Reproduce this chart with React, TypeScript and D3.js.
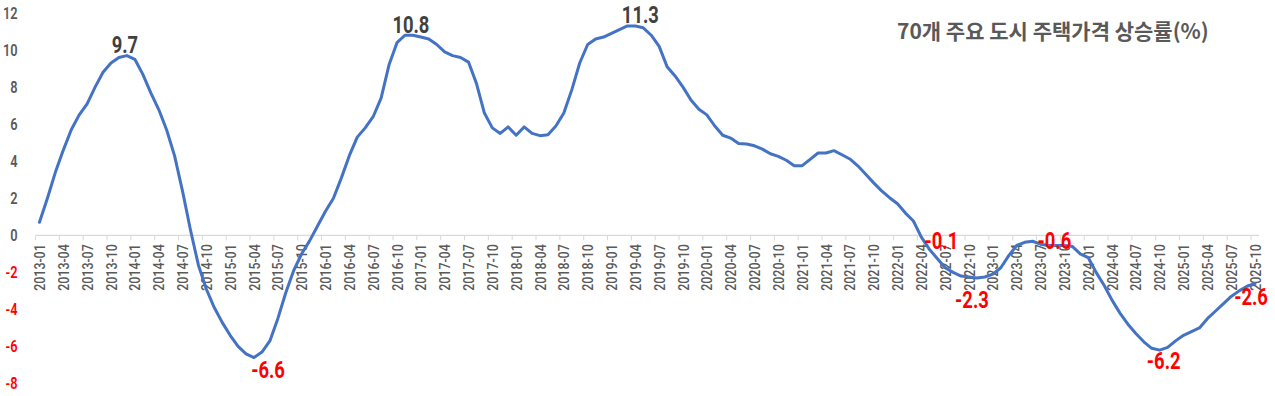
import React, { useRef, useEffect } from "react";
import * as d3 from "d3";

// 70 major cities housing price YoY change (%), monthly 2013-01 .. 2025-10
const startYear = 2013;
const values = [
  // 2013
  0.7, 2.0, 3.4, 4.6, 5.7, 6.5, 7.1, 8.0, 8.8, 9.3, 9.6, 9.7,
  // 2014
  9.5, 8.7, 7.7, 6.8, 5.7, 4.3, 2.4, 0.3, -1.6, -2.9, -3.9, -4.7,
  // 2015
  -5.4, -6.0, -6.4, -6.6, -6.3, -5.7, -4.5, -3.1, -1.9, -1.0, -0.3, 0.5,
  // 2016
  1.3, 2.0, 3.1, 4.3, 5.3, 5.8, 6.4, 7.4, 9.2, 10.4, 10.8, 10.8,
  // 2017
  10.7, 10.6, 10.3, 9.9, 9.7, 9.6, 9.35, 8.2, 6.6, 5.8, 5.5, 5.85,
  // 2018
  5.4, 5.85, 5.5, 5.38, 5.43, 5.9, 6.6, 7.85, 9.3, 10.3, 10.6, 10.7,
  // 2019
  10.9, 11.1, 11.3, 11.3, 11.2, 10.8, 10.2, 9.1, 8.6, 8.0, 7.3, 6.8,
  // 2020
  6.5, 5.9, 5.4, 5.25, 4.95, 4.93, 4.83, 4.65, 4.4, 4.26, 4.05, 3.76,
  // 2021
  3.76, 4.1, 4.44, 4.44, 4.57, 4.35, 4.12, 3.75, 3.3, 2.83, 2.4, 2.03,
  // 2022
  1.7, 1.2, 0.77, -0.1, -0.75, -1.25, -1.75, -2.0, -2.2, -2.25, -2.3, -2.25,
  // 2023
  -2.1, -1.75, -1.1, -0.55, -0.38, -0.32, -0.48, -0.55, -0.55, -0.55, -0.6, -1.0,
  // 2024
  -1.2, -2.0, -2.7, -3.5, -4.2, -4.8, -5.3, -5.75, -6.1, -6.2, -6.05, -5.7,
  // 2025
  -5.4, -5.2, -5.0, -4.5, -4.1, -3.7, -3.3, -3.0, -2.75, -2.6,
];

const months = values.map((_, i) => {
  const y = startYear + Math.floor(i / 12);
  const m = (i % 12) + 1;
  return `${y}-${m < 10 ? "0" + m : m}`;
});

const yTicks = [12, 10, 8, 6, 4, 2, 0, -2, -4, -6, -8];

// data labels: month index + shown text
const peakLabels = [
  { i: 11, text: "9.7" },
  { i: 47, text: "10.8" },
  { i: 75, text: "11.3" },
  { i: 27, text: "-6.6" },
  { i: 111, text: "-0.1" },
  { i: 118, text: "-2.3" },
  { i: 128, text: "-0.6" },
  { i: 141, text: "-6.2" },
  { i: 153, text: "-2.6" },
];
// label offsets from the point [dx, dy(baseline)]
const labelOffsets = [
  [-2, -3], [-2, -2], [5, -3], [14, 20], [20, 12], [-5, 30], [-2, 4], [4, 19], [-4, 22],
];

const title = "70개 주요 도시 주택가격 상승률(%)";

const W = 1275;
const H = 396;
const numFont = "Roboto, 'DejaVu Sans', sans-serif";

const App = () => {
  const ref = useRef(null);

  useEffect(() => {
    const svg = d3.select(ref.current);
    svg.selectAll("*").remove();

    const n = values.length;
    const x = d3.scaleLinear().domain([-0.5, n - 0.5]).range([35.5, 1259]);
    const y = d3.scaleLinear().domain([-8, 12]).range([383.5, 13]);

    // y labels (narrowed)
    svg
      .append("g")
      .selectAll("text")
      .data(yTicks)
      .enter()
      .append("text")
      .attr("transform", (d) => `translate(17.5,${y(d)}) scale(0.8,1)`)
      .attr("dy", "0.36em")
      .attr("text-anchor", "end")
      .attr("font-family", numFont)
      .attr("font-size", 16)
      .attr("font-weight", 600)
      .attr("fill", (d) => (d < 0 ? "#FF0000" : "#595959"))
      .text((d) => d);

    // zero axis line
    const y0 = y(0);
    svg
      .append("line")
      .attr("x1", x(-0.5))
      .attr("x2", x(n - 0.5))
      .attr("y1", y0)
      .attr("y2", y0)
      .attr("stroke", "#d9d9d9")
      .attr("stroke-width", 1.3);

    const tickIdx = d3.range(0, n + 1, 3);
    svg
      .append("g")
      .selectAll("line")
      .data(tickIdx)
      .enter()
      .append("line")
      .attr("x1", (d) => x(d - 0.5))
      .attr("x2", (d) => x(d - 0.5))
      .attr("y1", y0)
      .attr("y2", y0 + 5)
      .attr("stroke", "#d9d9d9")
      .attr("stroke-width", 1);

    // category labels every 3 months
    svg
      .append("g")
      .selectAll("text")
      .data(d3.range(0, n, 3))
      .enter()
      .append("text")
      .attr("transform", (d) => `translate(${x(d)},${y0 + 9}) rotate(-90) scale(0.8,1)`)
      .attr("dy", "0.36em")
      .attr("text-anchor", "end")
      .attr("font-family", numFont)
      .attr("font-size", 15.5)
      .attr("font-weight", 500)
      .attr("fill", "#595959")
      .text((d) => months[d]);

    // series line
    const line = d3
      .line()
      .x((d, i) => x(i))
      .y((d) => y(d))
      .curve(d3.curveLinear);

    svg
      .append("path")
      .datum(values)
      .attr("d", line)
      .attr("fill", "none")
      .attr("stroke", "#4472C4")
      .attr("stroke-width", 3)
      .attr("stroke-linejoin", "round")
      .attr("stroke-linecap", "round");

    // peak / trough labels
    svg
      .append("g")
      .selectAll("text")
      .data(peakLabels)
      .enter()
      .append("text")
      .attr(
        "transform",
        (d, k) =>
          `translate(${x(d.i) + labelOffsets[k][0]},${y(values[d.i]) + labelOffsets[k][1]}) scale(0.8,1)`
      )
      .attr("text-anchor", "middle")
      .attr("font-family", numFont)
      .attr("font-size", 23)
      .attr("font-weight", 700)
      .attr("fill", (d) => (values[d.i] < 0 ? "#FF0000" : "#404040"))
      .text((d) => d.text);

    // title
    svg
      .append("text")
      .attr("x", 897)
      .attr("y", 39)
      .attr("font-family", "'Noto Sans CJK KR', 'Noto Sans', sans-serif")
      .attr("font-size", 21)
      .attr("font-weight", 700)
      .attr("fill", "#595959")
      .text(title);
  }, []);

  return (
    <svg
      ref={ref}
      width={W}
      height={H}
      style={{ position: "absolute", left: 0, top: 0, background: "#fff" }}
    />
  );
};

export default App;
